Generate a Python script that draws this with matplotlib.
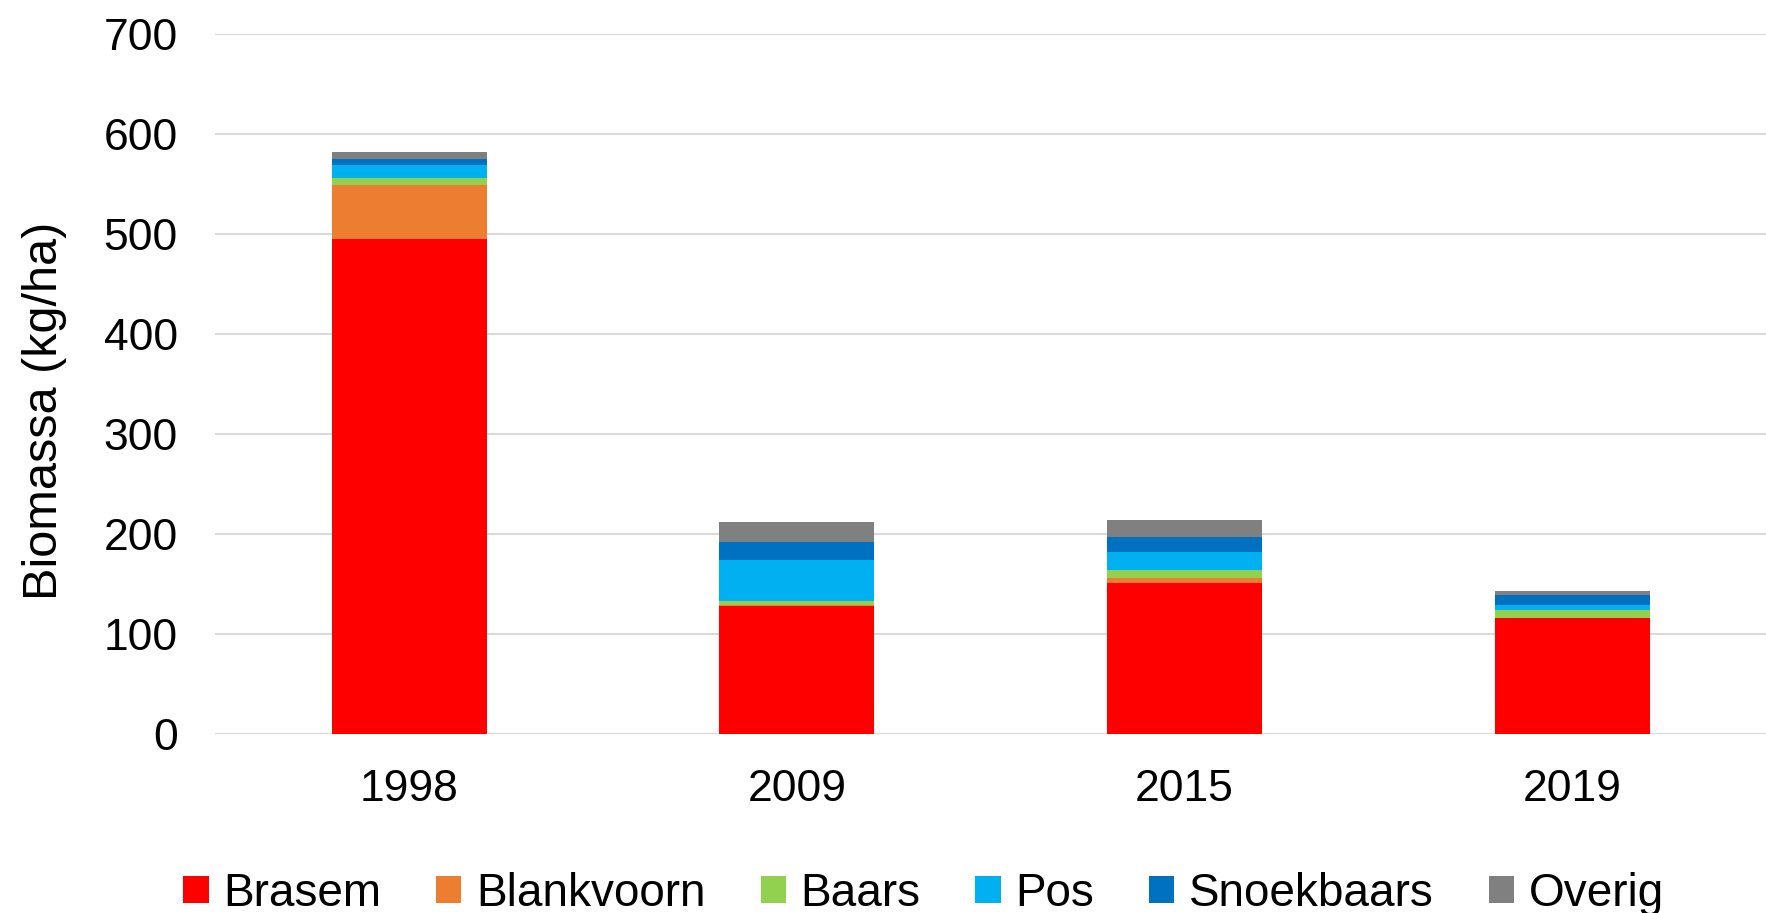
import matplotlib.pyplot as plt
import numpy as np

plt.rcParams['font.family'] = ['Liberation Sans', 'DejaVu Sans']

years = ["1998", "2009", "2015", "2019"]
species = ["Brasem", "Blankvoorn", "Baars", "Pos", "Snoekbaars", "Overig"]
brasem = [495, 128, 151, 116]
blankvoorn = [54, 1, 5, 0.5]
baars = [7, 4, 8, 8]
pos = [13, 41, 18, 5]
snoekbaars = [6, 18, 15, 9]
overig = [7, 20, 17, 4]
colors = ["#ff0000", "#ed7d31", "#92d050", "#00b0f0", "#0070c0", "#808080"]

series = [brasem, blankvoorn, baars, pos, snoekbaars, overig]

fig = plt.figure(figsize=(17.66, 9.13), dpi=100)
ax = fig.add_axes([0.122, 0.196, 0.878, 0.767])

x = np.arange(len(years))
bottom = np.zeros(len(years))
for name, vals, c in zip(species, series, colors):
    ax.bar(x, vals, 0.4, bottom=bottom, color=c, label=name, zorder=3)
    bottom += np.array(vals)

ax.set_xlim(-0.5, 3.5)
ax.set_ylim(0, 700)
ax.set_yticks(range(0, 701, 100))
ax.set_xticks(x)
ax.set_xticklabels(years)
ax.grid(axis='y', color='#d9d9d9', linewidth=1.5, zorder=0)
for s in ax.spines.values():
    s.set_visible(False)
ax.tick_params(axis='both', length=0, labelsize=32, colors='#000000')
ax.tick_params(axis='y', pad=27)
ax.tick_params(axis='x', pad=25)
ax.set_ylabel("Biomassa (kg/ha)", fontsize=35, va='center')
ax.yaxis.set_label_coords(-0.110, 0.461)

fig.legend(loc='center', bbox_to_anchor=(0.523, 0.021), ncol=6, frameon=False,
           fontsize=33, handlelength=0.55, handleheight=0.55, handletextpad=0.32,
           columnspacing=1.2, borderpad=0)

fig.savefig("out.png", dpi=100)
